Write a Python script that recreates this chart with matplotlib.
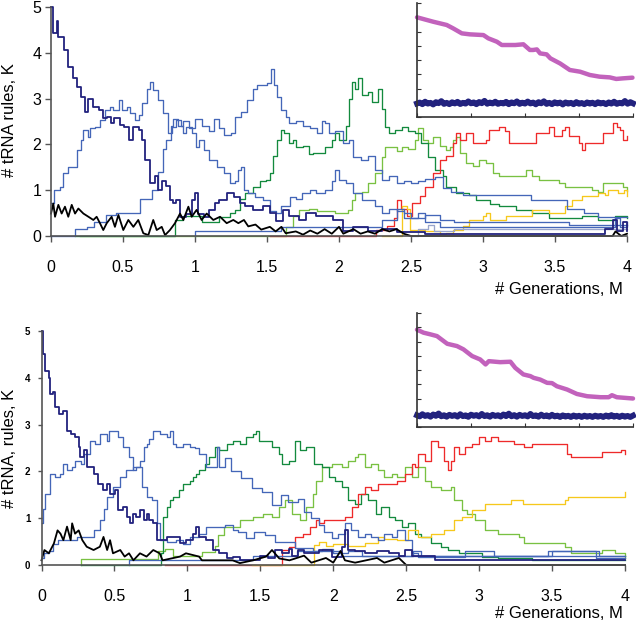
import matplotlib
matplotlib.use("Agg")
import matplotlib.pyplot as plt

plt.rcParams['font.family'] = ['Liberation Sans', 'DejaVu Sans']

# ---------------- data (x in M generations, y in K) ----------------
# Top panel
top_navy = [(0.0,5.0),(0.016,4.43),(0.04,4.7),(0.05,4.35),(0.09,4.06),(0.12,3.7),(0.155,3.44),(0.18,3.26),
            (0.21,3.04),(0.236,2.71),(0.26,3.0),(0.294,2.82),(0.33,2.75),(0.36,2.57),(0.39,2.6),(0.42,2.46),
            (0.44,2.57),(0.48,2.42),(0.51,2.38),(0.54,2.1),(0.57,2.39),(0.61,2.31),(0.63,2.1),(0.655,1.66),
            (0.69,1.15),(0.72,1.3),(0.745,1.0),(0.77,1.19),(0.8,1.1),(0.826,0.79),(0.85,0.71),(0.87,0.79),
            (0.896,0.42),(0.94,0.49),(0.977,0.79),(1.0,0.93),(1.02,0.49),(1.06,0.42),(1.1,0.57),(1.14,0.71),
            (1.17,0.79),(1.22,0.93),(1.27,0.86),(1.31,0.72),(1.35,0.65),(1.4,0.57),(1.47,0.65),(1.52,0.5),
            (1.56,0.32),(1.61,0.57),(1.65,0.43),(1.72,0.36),(1.77,0.5),(1.84,0.43),(1.91,0.43),(1.96,0.36),
            (2.03,0.1),(2.1,0.2),(2.2,0.1),(2.3,0.15),(2.4,0.08),(2.6,0.05),(3.5,0.05),(3.85,0.15),
            (3.9,0.35),(3.93,0.1),(3.97,0.3),(4.0,0.1)]
top_blue1 = [(0,0.71),(0.02,1.0),(0.06,1.08),(0.08,1.37),(0.12,1.51),(0.155,1.51),(0.18,1.88),(0.21,2.1),
             (0.225,2.31),(0.26,2.17),(0.27,2.35),(0.305,2.39),(0.34,2.53),(0.375,2.75),(0.41,2.82),(0.43,2.75),
             (0.47,2.97),(0.49,2.75),(0.525,2.82),(0.55,2.68),(0.585,2.53),(0.61,2.64),(0.63,2.9),(0.665,3.22),
             (0.69,3.37),(0.71,3.19),(0.745,2.97),(0.78,2.68),(0.815,2.24),(0.84,2.39),(0.87,2.53),(0.9,2.4),
             (0.92,2.24),(0.94,2.39),(0.977,2.24),(1.01,1.95),(1.03,2.1),(1.06,1.88),(1.1,1.66),(1.15,1.51),
             (1.2,1.37),(1.24,1.15),(1.28,1.19),(1.3,1.45),(1.32,1.5),(1.34,1.0),(1.37,0.93),(1.42,0.86),
             (1.47,0.79),(1.52,0.55),(1.56,0.5),(1.6,0.65),(1.63,0.65),(1.66,0.86),(1.7,0.8),(1.74,0.93),
             (1.8,1.0),(1.84,0.93),(1.9,1.0),(1.95,1.2),(1.97,1.45),(2.0,1.22),(2.05,1.15),(2.1,0.93),
             (2.16,0.79),(2.2,0.79),(2.25,0.65),(2.3,0.5),(2.35,0.6),(2.4,0.55),(2.45,0.5),(2.5,0.4),
             (2.6,0.45),(2.7,0.35),(2.8,0.3),(3.4,0.3),(3.6,0.25),(4.0,0.25)]
top_blue2 = [(0,0),(0.17,0),(0.17,0.15),(0.25,0.2),(0.3,0.3),(0.38,0.45),(0.45,0.5),(0.6,0.5),(0.62,0.8),
             (0.7,1.0),(0.74,1.4),(0.78,1.9),(0.8,2.1),(0.83,2.4),(0.85,2.55),(0.88,2.4),(0.92,2.5),(0.96,2.35),
             (1.0,2.55),(1.05,2.4),(1.1,2.3),(1.13,2.55),(1.17,2.35),(1.2,2.2),(1.25,2.25),(1.28,2.6),
             (1.32,2.7),(1.36,2.97),(1.4,3.2),(1.43,3.3),(1.47,3.3),(1.5,3.35),(1.53,3.65),(1.55,3.3),
             (1.57,3.04),(1.6,2.75),(1.63,2.6),(1.65,2.46),(1.7,2.5),(1.75,2.4),(1.8,2.35),(1.85,2.24),
             (1.88,2.5),(1.9,2.46),(1.93,2.24),(1.97,2.3),(2.03,2.02),(2.07,2.1),(2.1,1.73),(2.15,1.66),
             (2.2,1.75),(2.25,1.44),(2.3,1.22),(2.35,1.3),(2.4,1.15),(2.45,1.2),(2.5,1.15),(2.55,1.2),
             (2.6,1.25),(2.67,1.29),(2.72,1.05),(2.78,0.95),(2.86,0.9),(3.33,0.9),(3.33,0.79),(3.56,0.79),
             (3.58,0.6),(3.7,0.5),(3.8,0.42),(4.0,0.42)]
top_blue3 = [(1.0,0),(1.0,0.1),(1.5,0.1),(1.6,0.2),(2.0,0.2),(2.3,0.35),(2.4,0.6),(2.45,0.4),(2.55,0.5),
             (2.6,0.3),(2.7,0.2),(3.9,0.2),(3.92,0.4),(3.95,0.2),(4.0,0.3)]
top_grey = [(2.5,0),(2.55,0.15),(2.62,0.25),(2.66,0.1),(2.75,0.1),(2.8,0.15),(4.0,0.15)]
top_dgreen = [(0.17,0),(0.85,0),(0.86,0.35),(0.92,0.43),(1.0,0.43),(1.05,0.3),(1.12,0.3),(1.17,0.42),
              (1.24,0.5),(1.28,0.57),(1.31,0.8),(1.35,0.94),(1.4,1.08),(1.45,1.19),(1.49,1.23),(1.52,1.37),
              (1.54,1.74),(1.57,2.1),(1.6,2.32),(1.62,2.25),(1.65,2.03),(1.68,2.1),(1.7,1.95),(1.75,1.96),
              (1.79,1.8),(1.82,1.81),(1.86,1.81),(1.9,1.95),(1.95,2.1),(1.97,2.24),(2.0,2.1),(2.05,2.4),
              (2.07,3.0),(2.09,3.37),(2.11,3.22),(2.13,3.44),(2.16,3.08),(2.2,3.15),(2.23,2.93),(2.27,3.22),
              (2.3,2.78),(2.32,2.39),(2.35,2.24),(2.39,2.31),(2.44,2.39),(2.48,2.3),(2.53,2.24),(2.57,2.02),
              (2.62,1.73),(2.67,1.44),(2.72,1.3),(2.74,1.08),(2.81,0.94),(2.9,0.9),(2.95,0.79),(3.05,0.7),
              (3.11,0.65),(3.23,0.57),(3.34,0.5),(3.46,0.4),(3.6,0.4),(3.69,0.43),(3.8,0.36),(3.92,0.43),(4.0,0.4)]
top_lgreen = [(0.2,0),(1.6,0),(1.63,0.2),(1.68,0.43),(1.72,0.57),(1.79,0.6),(1.85,0.55),(1.97,0.5),(2.06,0.57),
              (2.09,0.79),(2.11,0.93),(2.16,0.95),(2.2,1.15),(2.25,1.37),(2.3,1.73),(2.32,1.95),(2.35,1.95),
              (2.4,1.85),(2.44,1.95),(2.48,1.9),(2.53,2.1),(2.55,2.35),(2.58,2.1),(2.62,2.02),(2.65,2.17),
              (2.7,1.96),(2.74,1.88),(2.77,1.95),(2.79,2.1),(2.81,2.17),(2.84,1.81),(2.88,1.59),(2.93,1.52),
              (2.97,1.67),(3.02,1.6),(3.07,1.37),(3.11,1.3),(3.25,1.3),(3.3,1.45),(3.34,1.3),(3.39,1.23),
              (3.53,1.16),(3.57,1.08),(3.73,1.08),(3.76,1.0),(3.8,0.97),(3.83,1.16),(3.92,1.16),(3.97,1.08),(4.0,0.98)]
top_red = [(1.52,0),(2.26,0),(2.26,0.14),(2.33,0.21),(2.38,0.4),(2.4,0.79),(2.43,0.6),(2.47,0.43),(2.51,0.72),
           (2.56,0.87),(2.6,1.08),(2.65,1.37),(2.7,1.67),(2.74,1.74),(2.79,2.03),(2.81,2.25),(2.84,2.1),
           (2.88,2.25),(2.93,2.03),(3.02,2.1),(3.04,2.32),(3.11,2.39),(3.15,2.3),(3.18,2.03),(3.34,2.03),
           (3.37,2.25),(3.43,2.25),(3.46,2.39),(3.49,2.18),(3.53,2.18),(3.55,2.32),(3.57,2.39),(3.6,2.18),
           (3.67,2.03),(3.69,1.88),(3.71,2.03),(3.8,2.03),(3.83,2.25),(3.87,2.25),(3.9,2.47),(3.93,2.39),
           (3.95,2.32),(3.97,2.1),(4.0,2.18)]
top_yellow = [(2.3,0),(2.42,0),(2.44,0.65),(2.47,0.58),(2.49,0.14),(2.6,0.1),(2.7,0.05),(2.74,0.07),(2.79,0.14),
              (2.86,0.21),(2.9,0.36),(3.0,0.43),(3.02,0.5),(3.05,0.36),(3.16,0.43),(3.3,0.43),(3.34,0.57),
              (3.46,0.5),(3.57,0.65),(3.62,0.79),(3.69,0.87),(3.8,0.94),(3.85,0.9),(3.87,1.01),(3.94,0.94),
              (3.98,1.0),(4.0,0.87)]
top_black = [(0.0,0.49),(0.016,0.71),(0.028,0.42),(0.051,0.68),(0.074,0.49),(0.097,0.64),(0.12,0.42),(0.144,0.68),
             (0.167,0.49),(0.19,0.6),(0.225,0.49),(0.26,0.42),(0.294,0.35),(0.317,0.42),(0.34,0.28),(0.363,0.13),
             (0.387,0.28),(0.421,0.42),(0.444,0.2),(0.468,0.46),(0.502,0.13),(0.537,0.35),(0.572,0.2),(0.606,0.35),
             (0.641,0.06),(0.676,0.02),(0.71,0.35),(0.734,0.13),(0.769,0.2),(0.792,0.02),(0.826,0.13),(0.861,0.28),
             (0.896,0.49),(0.919,0.35),(0.954,0.64),(0.977,0.42),(1.011,0.57),(1.046,0.35),(1.081,0.49),(1.127,0.35),
             (1.174,0.42),(1.22,0.28),(1.266,0.35),(1.301,0.28),(1.34,0.35),(1.37,0.21),(1.42,0.25),(1.46,0.14),
             (1.52,0.2),(1.56,0.1),(1.6,0.2),(1.63,0.06),(1.7,0.1),(1.75,0.03),(1.8,0.12),(1.85,0.05),(1.9,0.15),
             (1.95,0.05),(2.0,0.2),(2.03,0.05),(2.1,0.15),(2.15,0.05),(2.2,0.1),(2.25,0.05),(2.3,0.15),(2.35,0.1),
             (2.4,0.15),(2.45,0.05),(2.5,0.0),(3.9,0.0),(3.92,0.1),(3.96,0.0),(4.0,0.05)]

# Bottom panel
bot_navy = [(0,5.0),(0.01,4.5),(0.027,4.15),(0.05,4.0),(0.06,3.65),(0.08,3.7),(0.095,3.37),(0.118,3.23),(0.15,3.3),
            (0.175,2.87),(0.2,2.8),(0.23,2.73),(0.255,2.52),(0.266,2.3),(0.29,2.45),(0.31,2.09),(0.357,1.95),
            (0.39,1.74),(0.425,1.6),(0.45,1.74),(0.47,1.52),(0.505,1.6),(0.527,1.17),(0.56,1.24),(0.585,1.03),
            (0.607,0.89),(0.63,1.1),(0.65,1.03),(0.675,1.17),(0.7,0.96),(0.72,1.1),(0.74,0.96),(0.766,0.89),
            (0.79,0.53),(0.834,0.53),(0.857,0.6),(0.9,0.6),(0.95,0.46),(0.99,0.53),(1.04,0.67),(1.06,0.82),
            (1.08,0.6),(1.13,0.53),(1.175,0.32),(1.22,0.25),(1.27,0.14),(1.31,0.18),(1.36,0.1),(1.45,0.1),
            (1.5,0.2),(1.55,0.15),(1.6,0.32),(1.65,0.25),(1.7,0.35),(1.72,0.2),(1.76,0.32),(1.8,0.25),(1.9,0.32),
            (1.99,0.18),(2.06,0.39),(2.08,0.74),(2.1,0.32),(2.15,0.3),(2.22,0.25),(2.3,0.3),(2.38,0.25),(2.45,0.2),
            (2.49,0.32),(2.54,0.2),(2.67,0.2),(2.7,0.1),(4.0,0.1)]
bot_blue1 = [(0,0.9),(0.01,1.2),(0.027,1.52),(0.06,1.95),(0.09,1.88),(0.13,1.95),(0.15,2.16),(0.175,2.02),(0.21,2.09),
             (0.23,2.23),(0.27,2.16),(0.29,2.37),(0.33,2.66),(0.37,2.59),(0.4,2.8),(0.45,2.66),(0.46,2.87),(0.505,2.87),
             (0.527,2.73),(0.56,2.52),(0.6,2.3),(0.63,2.02),(0.65,2.09),(0.686,1.67),(0.72,1.45),(0.755,1.38),
             (0.79,0.89),(0.81,0.53),(0.86,0.5),(0.92,0.53),(0.97,0.45),(1.02,0.6),(1.08,0.67),(1.13,0.82),(1.2,0.82),
             (1.26,0.85),(1.31,0.74),(1.35,0.7),(1.4,0.57),(1.46,0.71),(1.53,0.64),(1.6,0.5),(1.67,0.5),(1.74,0.36),
             (1.8,0.36),(1.86,0.3),(1.92,0.35),(2.0,0.25),(2.1,0.3),(2.2,0.2),(2.5,0.2),(2.55,0.3),(2.6,0.2),(4.0,0.2)]
bot_blue2 = [(0,0.15),(0.02,0.25),(0.05,0.3),(0.08,0.45),(0.11,0.53),(0.22,0.53),(0.24,0.6),(0.31,0.6),(0.36,0.74),
             (0.4,0.96),(0.43,1.2),(0.45,1.45),(0.49,1.67),(0.54,1.88),(0.58,2.02),(0.63,2.09),(0.675,2.23),(0.7,2.52),
             (0.72,2.59),(0.74,2.7),(0.766,2.87),(0.81,2.8),(0.857,2.73),(0.88,2.87),(0.9,2.59),(0.925,2.52),
             (0.97,2.59),(1.02,2.52),(1.05,2.5),(1.08,2.38),(1.13,2.09),(1.175,2.09),(1.2,2.52),(1.22,2.09),
             (1.26,2.28),(1.3,2.0),(1.37,1.85),(1.44,1.64),(1.51,1.57),(1.58,1.28),(1.64,1.5),(1.69,1.35),(1.76,1.42),
             (1.8,1.14),(1.85,1.0),(1.9,0.85),(1.94,0.71),(1.99,0.57),(2.03,0.67),(2.08,0.89),(2.12,0.74),(2.17,0.6),
             (2.22,0.67),(2.26,0.6),(2.31,0.53),(2.35,0.67),(2.4,0.6),(2.44,0.74),(2.49,0.53),(2.54,0.25),(2.58,0.18),
             (2.9,0.18),(2.9,0.3),(3.1,0.3),(3.1,0.2),(3.5,0.2),(3.5,0.3),(3.8,0.3),(3.8,0.15),(4.0,0.15)]
bot_blue3 = [(0.6,0),(0.6,0.1),(1.4,0.1),(1.45,0.2),(1.7,0.2),(1.75,0.3),(2.0,0.3),(2.05,0.2),(3.45,0.2),
             (3.47,0.3),(3.8,0.3),(3.82,0.2),(4.0,0.2)]
bot_dgreen = [(0.27,0),(0.82,0),(0.82,0.25),(0.83,1.03),(0.857,1.24),(0.88,1.38),(0.9,1.45),(0.94,1.6),(0.97,1.74),
              (1.02,1.8),(1.04,1.88),(1.06,1.95),(1.08,2.02),(1.12,2.16),(1.15,2.3),(1.19,2.52),(1.22,2.45),(1.27,2.59),
              (1.31,2.66),(1.36,2.59),(1.4,2.73),(1.45,2.8),(1.47,2.87),(1.49,2.66),(1.54,2.66),(1.58,2.52),(1.63,2.38),
              (1.65,2.16),(1.7,2.23),(1.74,2.66),(1.77,2.45),(1.81,2.52),(1.83,2.52),(1.87,2.16),(1.92,2.09),(1.97,1.88),
              (2.01,1.8),(2.06,1.67),(2.1,1.38),(2.15,1.31),(2.19,1.52),(2.24,1.38),(2.29,1.1),(2.33,1.24),(2.38,1.03),
              (2.42,0.96),(2.47,0.82),(2.51,0.89),(2.56,0.67),(2.6,0.6),(2.67,0.46),(2.74,0.39),(2.79,0.32),(2.86,0.25),
              (2.95,0.25),(3.02,0.18),(3.13,0.14),(3.36,0.1),(4.0,0.1)]
bot_lgreen = [(0.27,0),(0.27,0.12),(0.78,0.12),(0.8,0.3),(0.85,0.35),(0.9,0.2),(1.05,0.2),(1.1,0.28),(1.19,0.4),(1.21,0.64),
              (1.25,0.82),(1.31,0.82),(1.36,0.96),(1.45,1.03),(1.52,1.1),(1.58,1.03),(1.63,1.24),(1.67,1.38),(1.72,1.1),
              (1.77,0.96),(1.81,1.24),(1.86,1.52),(1.88,1.8),(1.92,2.09),(1.99,2.16),(2.06,2.09),(2.1,2.23),(2.15,2.3),
              (2.17,2.38),(2.22,2.09),(2.26,2.16),(2.31,2.02),(2.35,1.88),(2.4,1.95),(2.44,1.88),(2.49,2.09),(2.54,1.88),
              (2.58,2.09),(2.63,1.8),(2.67,1.67),(2.74,1.6),(2.81,1.67),(2.83,1.38),(2.88,1.17),(2.92,1.1),(2.97,0.96),
              (3.04,0.74),(3.13,0.67),(3.27,0.6),(3.31,0.46),(3.5,0.46),(3.59,0.39),(3.63,0.25),(3.81,0.25),(3.84,0.32),
              (3.93,0.25),(4.0,0.14)]
bot_red = [(0.85,0),(1.62,0),(1.65,0.32),(1.7,0.39),(1.74,0.6),(1.79,0.67),(1.84,0.82),(1.88,0.96),(1.9,0.89),(1.94,0.96),
           (2.03,0.96),(2.08,1.03),(2.13,1.24),(2.17,1.52),(2.22,1.67),(2.26,1.6),(2.31,1.74),(2.4,1.74),(2.44,1.8),
           (2.49,1.95),(2.54,2.16),(2.56,2.09),(2.58,2.38),(2.63,2.23),(2.67,2.66),(2.72,2.52),(2.76,2.23),(2.79,2.02),
           (2.81,2.23),(2.83,2.52),(2.86,2.38),(2.9,2.52),(2.95,2.59),(3.0,2.73),(3.04,2.66),(3.08,2.73),(3.13,2.66),
           (3.24,2.59),(3.31,2.52),(3.36,2.59),(3.59,2.59),(3.6,2.38),(3.63,2.3),(3.82,2.3),(3.84,2.41),(3.97,2.45),(4.0,2.38)]
bot_yellow = [(1.44,0),(1.86,0),(1.87,0.43),(1.9,0.5),(1.95,0.4),(2.0,0.45),(2.1,0.4),(2.22,0.46),(2.31,0.6),(2.35,0.55),
              (2.44,0.53),(2.51,0.74),(2.58,0.6),(2.67,0.67),(2.76,0.74),(2.83,0.96),(2.88,1.03),(2.95,1.17),(3.0,1.17),
              (3.04,1.31),(3.13,1.31),(3.22,1.38),(3.3,1.31),(3.59,1.38),(3.61,1.45),(3.99,1.45),(4.0,1.56)]
bot_black = [(0,0.1),(0.02,0.32),(0.05,0.25),(0.085,0.46),(0.11,0.74),(0.13,0.67),(0.15,0.53),(0.175,0.82),(0.2,0.53),
             (0.21,0.89),(0.23,0.67),(0.255,0.74),(0.28,0.53),(0.31,0.39),(0.357,0.32),(0.4,0.39),(0.425,0.6),(0.45,0.32),
             (0.47,0.53),(0.49,0.25),(0.54,0.32),(0.57,0.18),(0.6,0.25),(0.63,0.1),(0.675,0.25),(0.72,0.18),(0.766,0.32),
             (0.81,0.25),(0.83,0.1),(0.95,0.18),(0.99,0.25),(1.08,0.18),(1.1,0.1),(1.31,0.1),(1.36,0.04),(1.45,0.1),
             (1.54,0.18),(1.58,0.32),(1.63,0.14),(1.7,0.1),(1.8,0.2),(1.85,0.05),(1.95,0.15),(2.0,0.05),(2.05,0.3),
             (2.08,0.1),(2.15,0.05),(2.3,0.15),(2.35,0.05),(2.45,0.15),(2.5,0.0),(4.0,0.0)]

# Insets
inset_top_magenta = [(0,7.02),(0.3,6.71),(0.55,6.48),(0.67,6.24),(0.83,5.89),(0.98,5.82),(1.23,5.77),(1.32,5.54),
                     (1.48,5.3),(1.57,5.07),(1.82,5.07),(1.97,5.12),(2.09,4.72),(2.15,4.72),(2.22,4.76),(2.28,4.48),
                     (2.4,4.41),(2.47,4.13),(2.65,3.77),(2.83,3.31),(3.02,3.19),(3.2,2.96),(3.38,2.84),(3.57,2.79),
                     (3.69,2.68),(3.81,2.72),(3.99,2.77)]
inset_top_navy = [(0,0.95),(0.05,1.02),(0.1,0.9),(0.15,1.08),(0.2,0.94),(0.25,1.0),(0.3,0.88),(0.35,1.05),(0.4,0.97),
                  (0.45,1.12),(0.5,0.92),(0.55,1.0),(0.6,0.9),(0.65,1.04),(0.7,0.95),(0.75,1.07),(0.8,0.91),(0.85,1.0),
                  (0.9,0.94),(0.95,1.1),(1.0,0.96),(1.05,1.03),(1.1,0.9),(1.15,1.06),(1.2,0.97),(1.25,1.14),(1.3,0.93),
                  (1.35,1.02),(1.4,0.95),(1.45,1.08),(1.5,0.92),(1.55,1.0),(1.6,0.95),(1.65,1.07),(1.7,0.9),(1.75,1.03),
                  (1.8,0.96),(1.85,1.1),(1.9,0.92),(1.95,1.01),(2.0,0.94),(2.05,1.09),(2.1,0.95),(2.15,1.02),(2.2,0.89),
                  (2.25,1.05),(2.3,0.96),(2.35,1.11),(2.4,0.92),(2.45,1.0),(2.5,0.9),(2.55,1.04),(2.6,0.95),(2.65,1.02),
                  (2.7,0.88),(2.75,1.03),(2.8,0.94),(2.85,1.0),(2.9,0.9),(2.95,1.05),(3.0,0.93),(3.05,0.99),(3.1,0.9),
                  (3.15,1.03),(3.2,0.94),(3.25,1.01),(3.3,0.9),(3.35,1.04),(3.4,0.95),(3.45,1.0),(3.5,0.9),(3.55,1.03),
                  (3.6,0.94),(3.65,1.08),(3.7,0.92),(3.75,1.0),(3.8,0.95),(3.85,1.13),(3.9,0.93),(3.95,1.05),(4.0,0.96)]
inset_bot_magenta = [(0,6.83),(0.12,6.62),(0.25,6.5),(0.37,6.38),(0.56,5.84),(0.74,5.68),(0.86,5.45),(1.02,4.98),
                     (1.17,4.74),(1.27,4.39),(1.33,4.62),(1.54,4.55),(1.73,4.58),(1.82,4.15),(1.97,3.69),(2.1,3.57),
                     (2.16,3.45),(2.28,3.33),(2.41,3.1),(2.5,3.08),(2.59,2.86),(2.78,2.63),(2.96,2.32),(3.15,2.16),
                     (3.4,2.09),(3.55,2.09),(3.61,2.23),(3.7,2.09),(4.0,2.0)]
inset_bot_navy = [(0,0.82),(0.05,0.74),(0.1,0.9),(0.15,0.77),(0.2,0.84),(0.25,0.72),(0.3,0.88),(0.35,0.78),(0.4,0.95),
                  (0.45,0.75),(0.5,0.83),(0.55,0.72),(0.6,0.86),(0.65,0.77),(0.7,0.84),(0.75,0.73),(0.8,0.9),(0.85,0.76),
                  (0.9,0.82),(0.95,0.71),(1.0,0.87),(1.05,0.78),(1.1,0.84),(1.15,0.74),(1.2,0.92),(1.25,0.76),(1.3,0.83),
                  (1.35,0.72),(1.4,0.86),(1.45,0.77),(1.5,0.83),(1.55,0.73),(1.6,0.88),(1.65,0.76),(1.7,0.94),(1.75,0.75),
                  (1.8,0.84),(1.85,0.72),(1.9,0.86),(1.95,0.77),(2.0,0.83),(2.05,0.74),(2.1,0.92),(2.15,0.76),(2.2,0.82),
                  (2.25,0.72),(2.3,0.87),(2.35,0.75),(2.4,0.82),(2.45,0.72),(2.5,0.86),(2.55,0.74),(2.6,0.8),(2.65,0.7),
                  (2.7,0.82),(2.75,0.73),(2.8,0.79),(2.85,0.7),(2.9,0.81),(2.95,0.72),(3.0,0.79),(3.05,0.7),(3.1,0.8),
                  (3.15,0.72),(3.2,0.78),(3.25,0.7),(3.3,0.8),(3.35,0.72),(3.4,0.78),(3.45,0.7),(3.5,0.81),(3.55,0.72),
                  (3.6,0.84),(3.65,0.72),(3.7,0.79),(3.75,0.7),(3.8,0.8),(3.85,0.72),(3.9,0.78),(3.95,0.7),(4.0,0.8)]

main_xticks = [0, 0.5, 1, 1.5, 2, 2.5, 3, 3.5, 4]
main_xticklabels = ['0', '0.5', '1', '1.5', '2', '2.5', '3', '3.5', '4']
main_yticks = [0, 1, 2, 3, 4, 5]

C_NAVY = '#22227E'
C_BLUE = '#4466B8'
C_DGREEN = '#138A3E'
C_LGREEN = '#79C142'
C_RED = '#EE2A2A'
C_YELLOW = '#F6C81C'
C_GREY = '#9AA6CC'
C_MAGENTA = '#C262BC'
SPINE = '#555555'

fig = plt.figure(figsize=(6.36, 6.28), dpi=100)

def draw(ax, pts, color, lw=0.95, z=2, steps=True):
    xs = [p[0] for p in pts]
    ys = [p[1] for p in pts]
    kw = dict(drawstyle='steps-post') if steps else {}
    ax.plot(xs, ys, color=color, lw=lw, zorder=z, clip_on=False, **kw)

def style_main(ax, ylab_size, ylab_bold, ypad):
    ax.set_xlim(0, 4)
    ax.set_ylim(0, 5)
    for s in ['top', 'right']:
        ax.spines[s].set_visible(False)
    for s in ['left', 'bottom']:
        ax.spines[s].set_color(SPINE)
        ax.spines[s].set_linewidth(1.2)
    ax.set_xticks(main_xticks)
    ax.set_xticklabels(main_xticklabels)
    ax.set_yticks(main_yticks)
    ax.tick_params(axis='x', length=4, width=1, color=SPINE, pad=13, labelsize=11.5)
    ax.tick_params(axis='y', length=4, width=1, color=SPINE, pad=ypad, labelsize=ylab_size)
    if ylab_bold:
        for t in ax.get_yticklabels():
            t.set_fontweight('bold')
    ax.patch.set_alpha(0)

# ---------- top panel ----------
ax1 = fig.add_axes([51/636, 1-236/628, 576/636, 229/628])
style_main(ax1, 11.5, False, 3)
draw(ax1, top_lgreen, C_LGREEN)
draw(ax1, top_dgreen, C_DGREEN)
draw(ax1, top_red, C_RED)
draw(ax1, top_yellow, C_YELLOW)
draw(ax1, top_grey, C_GREY)
draw(ax1, top_blue3, C_BLUE)
draw(ax1, top_blue1, C_BLUE)
draw(ax1, top_blue2, C_BLUE)
draw(ax1, top_navy, C_NAVY, lw=1.3)
draw(ax1, top_black, 'black', lw=1.3, steps=False)

# ---------- bottom panel ----------
ax2 = fig.add_axes([41.5/636, 1-565/628, 583.5/636, 234/628])
style_main(ax2, 7, True, 5)
ax2.tick_params(axis='y', length=3)
draw(ax2, bot_lgreen, C_LGREEN)
draw(ax2, bot_dgreen, C_DGREEN)
draw(ax2, bot_red, C_RED)
draw(ax2, bot_yellow, C_YELLOW)
draw(ax2, bot_blue3, C_BLUE)
draw(ax2, bot_blue1, C_BLUE)
draw(ax2, bot_blue2, C_BLUE)
draw(ax2, bot_navy, C_NAVY, lw=1.3)
draw(ax2, bot_black, 'black', lw=1.3, steps=False)

# labels
fig.text(10/636, 1-120/628, '# tRNA rules, K', rotation=90, ha='center', va='center', fontsize=12)
fig.text(10/636, 1-448/628, '# tRNA, rules, K', rotation=90, ha='center', va='center', fontsize=12)
fig.text(623/636, 1-290/628, '# Generations, M', ha='right', va='center', fontsize=12)
fig.text(623/636, 1-613/628, '# Generations, M', ha='right', va='center', fontsize=12)

# ---------- insets ----------
def inset(rect, mag, navy):
    ax = fig.add_axes(rect)
    ax.set_facecolor('white')
    ax.set_xlim(0, 4)
    ax.set_ylim(0, 8)
    for s in ['top', 'right']:
        ax.spines[s].set_visible(False)
    for s in ['left', 'bottom']:
        ax.spines[s].set_color('#333333')
        ax.spines[s].set_linewidth(1.2)
    ax.set_xticks([0, 1, 2, 3, 4])
    ax.set_yticks([0, 1, 2, 3, 4, 5, 6, 7, 8])
    ax.tick_params(axis='both', length=3, width=0.8, color='#333333', direction='in',
                   labelbottom=False, labelleft=False)
    ax.plot([p[0] for p in mag], [p[1] for p in mag], color=C_MAGENTA, lw=3.2,
            solid_capstyle='round', clip_on=False)
    ax.plot([p[0] for p in navy], [p[1] for p in navy], color=C_NAVY, lw=4.2, clip_on=False)
    return ax

inset([417/636, 1-117/628, 216/636, 113.6/628], inset_top_magenta, inset_top_navy)
inset([417/636, 1-427/628, 216/636, 114/628], inset_bot_magenta, inset_bot_navy)

fig.savefig('out.png', dpi=100)
